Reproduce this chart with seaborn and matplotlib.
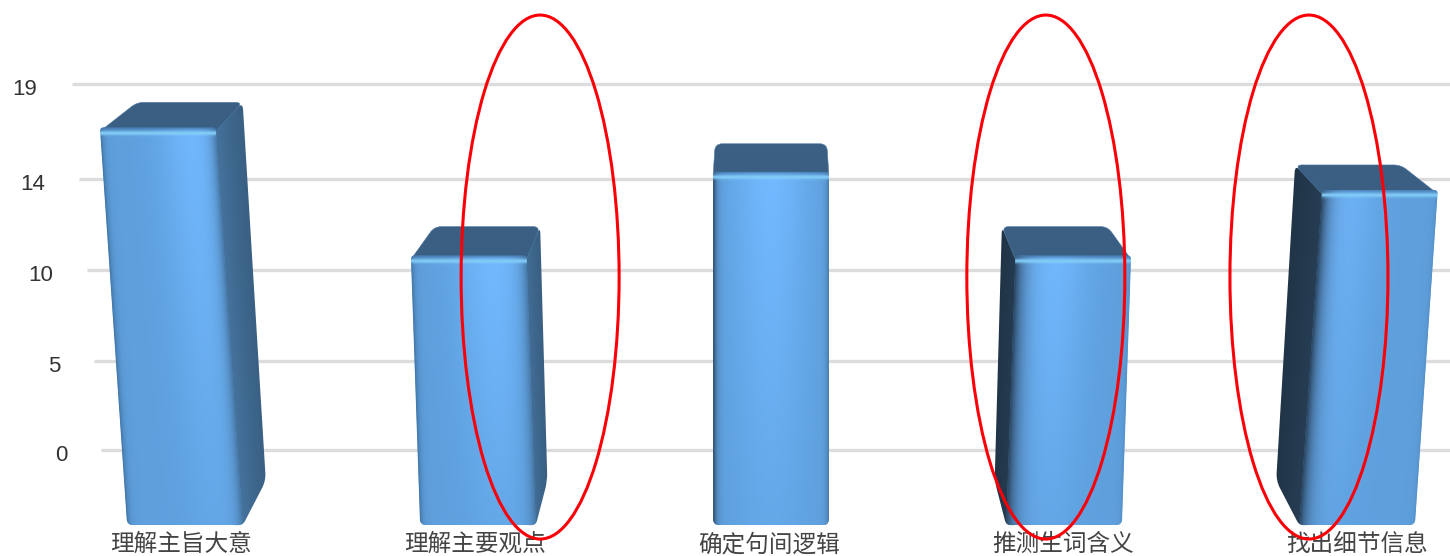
import numpy as np
import matplotlib
matplotlib.use('Agg')
import matplotlib.pyplot as plt
import seaborn as sns
from matplotlib.path import Path
from matplotlib.patches import PathPatch, Ellipse
from matplotlib.transforms import Affine2D

# =============================================================================
# Data
# =============================================================================
categories = ['理解主旨大意', '理解主要观点', '确定句间逻辑', '推测生词含义', '找出细节信息']
front_top = [16.75, 10.1, 14.45, 10.1, 13.5]   # top of the front face
back_top = [18.05, 11.6, 15.9, 11.6, 14.8]     # top of the back edge
floor_value = -3.9

tick_values = [0, 4.62, 9.35, 14.07, 19]
tick_labels = ['0', '5', '10', '14', '19']
tick_right_px = [67, 60, 53, 45, 37]
grid_left_px = [101, 94, 87, 79, 72]

circled_bars = [1, 3, 4]
circle_offsets = [0.212, -0.062, -0.164]

# =============================================================================
# Figure setup
# =============================================================================
sns.set_theme(style='white')
plt.rcParams['font.family'] = ['Liberation Sans', 'Noto Sans CJK SC', 'DejaVu Sans']

W, H = 1450, 556
PX_X = 293.0     # pixels for one category
PX_Y = 19.26     # pixels for one value unit
left_px, bottom_px = 72, 530

fig = plt.figure(figsize=(W / 100, H / 100), dpi=100)
ax = fig.add_axes([left_px / W, 1 - bottom_px / H, 1 - left_px / W, bottom_px / H])

heights = [t - floor_value for t in front_top]
sns.barplot(x=categories, y=heights, bottom=floor_value, width=0.395, color='#62a4e2',
            saturation=1, linewidth=0, ax=ax, zorder=5)

x_min = 2 + (left_px - 771) / PX_X
x_max = 2 + (W - 771) / PX_X


def shear(i, y):
    # bars lean away from the middle, the more the higher up
    return (i - 2) * 0.00225 * (y - floor_value)


def rounded(points, radii):
    # closed path with the corners cut by a curve, radii are in pixels
    pts = np.array(points, dtype=float)
    n = len(pts)
    verts, codes = [], []
    for k in range(n):
        p, prev, nxt = pts[k], pts[k - 1], pts[(k + 1) % n]
        out = []
        for q in (prev, nxt):
            d = np.hypot((q[0] - p[0]) * PX_X, (q[1] - p[1]) * PX_Y)
            out.append(p + (q - p) * min(radii[k] / max(d, 1e-6), 0.5))
        verts += [out[0], p, out[1]]
        codes += [Path.LINETO if k else Path.MOVETO, Path.CURVE3, Path.CURVE3]
    verts.append(verts[0])
    codes.append(Path.CLOSEPOLY)
    return Path(verts, codes)


def hex_rgb(c):
    return np.array(matplotlib.colors.to_rgb(c))


def paint(img, corners, clip_path, zorder):
    # corners: origin, end of u, end of v, the unit square image goes on to them
    o, a, b = [np.array(c, dtype=float) for c in corners]
    m = Affine2D.from_values(a[0] - o[0], a[1] - o[1], b[0] - o[0], b[1] - o[1], o[0], o[1])
    im = ax.imshow(np.clip(img, 0, 1), extent=(0, 1, 0, 1), origin='lower', aspect='auto',
                   interpolation='bilinear', zorder=zorder)
    im.set_transform(m + ax.transData)
    im.set_clip_path(PathPatch(clip_path, transform=ax.transData))


def front_image(i, w_px, h_px):
    nx, ny = 160, 400
    u = np.linspace(0, 1, nx)[None, :]
    v = np.linspace(0, 1, ny)[:, None]
    spot = {0: 0.84, 1: 0.72, 2: 0.5, 3: 0.3, 4: 0.12}[i]
    glow = np.exp(-((u - spot) / 0.34) ** 2)
    dim = 0.35 + 0.65 * v          # bottom part is a bit flatter
    mix = (glow * dim)[..., None]
    img = hex_rgb('#5e9fdc') * (1 - mix) + hex_rgb('#72b9ff') * mix
    # dark rounded edge left and right
    xp = u * w_px
    edge_l = np.exp(-xp / (9.0 if i > 2 else 3.0))
    edge_r = np.exp(-(w_px - xp) / (6.0 if i < 2 else 2.5))
    left_col = hex_rgb('#2a4460') if i >= 2 else hex_rgb('#2f5880')
    right_col = hex_rgb('#44739f')
    e = (edge_l * (1.0 if i >= 2 else 0.55) * np.ones_like(v))[..., None]
    img = img * (1 - e) + left_col * e
    e = (edge_r * (0.3 if i > 2 else 0.9) * np.ones_like(v))[..., None]
    img = img * (1 - e) + right_col * e
    # highlight under the top edge
    yp = (1 - v) * h_px
    line = np.exp(-((yp - 5.5) / 2.2) ** 2) * np.ones_like(u)
    img = img * (1 - line[..., None]) + hex_rgb('#88d4ff') * line[..., None]
    top = np.exp(-yp / 2.2) * np.ones_like(u)
    img = img * (1 - top[..., None]) + hex_rgb('#3f6f9f') * top[..., None]
    return img


def side_image(on_left):
    # first column is next to the front face, last one at the outer edge
    u = np.linspace(0, 1, 80)[None, :]
    if on_left:
        near, far = hex_rgb('#2c4560'), hex_rgb('#1f3344')
    else:
        near, far = hex_rgb('#4f83b3'), hex_rgb('#375b7d')
    w = np.sqrt(u)[..., None]
    return near * (1 - w) + far * w


# =============================================================================
# Bars
# =============================================================================
for i, bar in enumerate(ax.patches):
    x0, w = bar.get_x(), bar.get_width()
    y0, y1 = bar.get_y(), bar.get_y() + bar.get_height()
    s_top = shear(i, y1)
    back_dx = -(i - 2) * 13.5 / PX_X
    under = 4 / PX_Y

    fl_b, fr_b = (x0, y0), (x0 + w, y0)
    fl_t, fr_t = (x0 + s_top, y1), (x0 + w + s_top, y1)

    # back edge, the side away from the visible side face moves in more
    if i < 2:
        ins_l, ins_r = 10 / PX_X, 0
    elif i > 2:
        ins_l, ins_r = 0, 10 / PX_X
    else:
        ins_l, ins_r = 2 / PX_X, 2 / PX_X
    bl_t = (fl_t[0] + ins_l + back_dx, back_top[i])
    br_t = (fr_t[0] - ins_r + back_dx, back_top[i])

    # side face, only the bars off centre show one
    if i != 2:
        on_left = i > 2
        f_t = fl_t if on_left else fr_t
        f_b = fl_b if on_left else fr_b
        b_t = bl_t if on_left else br_t
        b_b = (f_b[0] + back_dx * 0.85, y0 + 2.3)
        tuck = (8 if on_left else -8) / PX_X    # goes on a little under the front
        # chamfer runs from the raised back corner to the front foot
        side = rounded([(f_t[0] + tuck, f_t[1] - under), f_t, b_t, b_b, f_b, (f_b[0] + tuck, y0)],
                       [0, 0, 7, 8, 5, 0])
        # image is made larger than the face, its own rim would show dark otherwise
        low, high = y0 - 0.5, back_top[i] + 1
        paint(side_image(on_left),
              [(f_b[0] + tuck + shear(i, low), low), (f_b[0] + back_dx * 1.4 + shear(i, low), low),
               (f_b[0] + tuck + shear(i, high), high)],
              side, 4)

    # top face
    top_path = rounded([(fl_t[0], y1 - under), (fr_t[0], y1 - under), br_t, bl_t],
                       [3, 3, 7, 7])
    ax.add_patch(PathPatch(top_path, facecolor='#3a5f82', edgecolor='#4f7ba3', lw=0.4, zorder=4.5))

    # front face is the seaborn bar itself, leaned over
    k = s_top / (y1 - y0)
    lean = Affine2D.from_values(1, 0, k, 1, -k * y0, 0)
    bar.set_transform(lean + ax.transData)
    front = rounded([fl_b, fr_b, fr_t, fl_t], [6, 6, 4, 4])
    bar.set_clip_path(PathPatch(front, transform=ax.transData))
    paint(front_image(i, w * PX_X, (y1 - y0) * PX_Y), [fl_b, fr_b, fl_t], front, 5.5)

# =============================================================================
# Grid, axes text, circles
# =============================================================================
grid_left = [x_min + (p - left_px) / PX_X for p in grid_left_px]
ax.hlines(tick_values, grid_left, x_max, color='#dcdcdc', lw=2.4, zorder=1)

ax.set_yticks(tick_values, tick_labels)
ax.tick_params(axis='y', left=False, length=0, labelsize=16, labelcolor='#333333')
for tick, r in zip(ax.yaxis.get_major_ticks(), tick_right_px):
    tick.set_pad((left_px - r) * 0.72)
    tick.label1.set_transform(tick.label1.get_transform() + Affine2D().translate(0, -3))

ax.set_xticks([k + (k - 4) * 0.0035 for k in range(len(categories))], categories)
ax.tick_params(axis='x', bottom=False, length=0, labelsize=17, labelcolor='#444444', pad=2.5)
ax.set_xlabel('')
ax.set_ylabel('')
sns.despine(ax=ax, left=True, bottom=True)

for b, off in zip(circled_bars, circle_offsets):
    ax.add_patch(Ellipse((b + off, 8.98), 158 / PX_X, 524 / PX_Y, facecolor='none',
                         edgecolor='#fb0007', lw=2.2, clip_on=False, zorder=10))

ax.set_xlim(x_min, x_max)
ax.set_ylim((450 - bottom_px) / PX_Y, 450 / PX_Y)

fig.savefig('out.png', dpi=100)
